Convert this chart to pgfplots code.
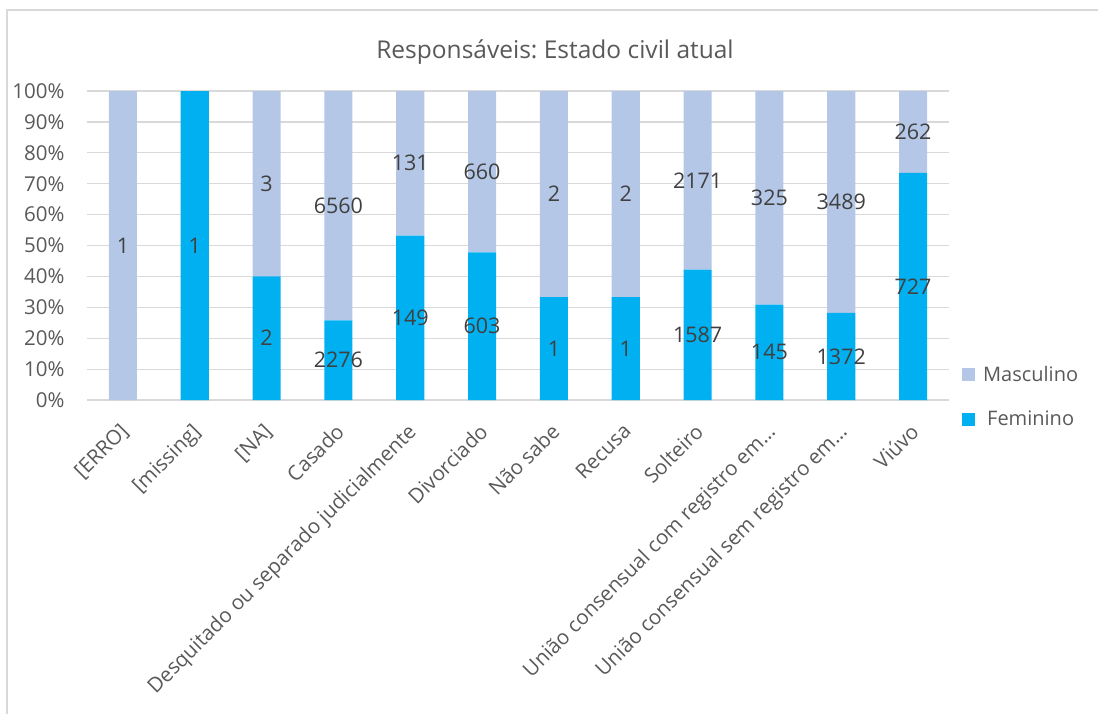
\documentclass[border=0pt]{standalone}
\usepackage{pgfplots}
\pgfplotsset{compat=1.18}
\usepackage{pgfplotstable}
\usepackage{fontspec}
\setmainfont{Open Sans}
\definecolor{fem}{HTML}{00B0F0}
\definecolor{masc}{HTML}{B4C7E7}
\definecolor{txt}{HTML}{595959}
\definecolor{lbl}{HTML}{404040}
\definecolor{gridc}{HTML}{D9D9D9}
\pgfplotstableread{
x fem masc flab mlab
0 0 1 {} 1
1 1 0 1 {}
2 2 3 2 3
3 2276 6560 2276 6560
4 149 131 149 131
5 603 660 603 660
6 1 2 1 2
7 1 2 1 2
8 1587 2171 1587 2171
9 145 325 145 325
10 1372 3489 1372 3489
11 727 262 727 262
}\data
\pgfplotsset{common/.style={
  at={(87pt,-400pt)}, anchor=south west,
  scale only axis, width=862pt, height=309pt,
  xmin=-0.5, xmax=11.5, ymin=0, ymax=100,
}}
\begin{document}
\begin{tikzpicture}[x=1pt,y=1pt]
\path[use as bounding box] (0,0) rectangle (1098,-714);
\draw[gridc, line width=1.2pt] (7,-714) -- (7,-10) -- (1098,-10);
\node[txt, font=\fontsize{24.5}{29}\selectfont] at (555,-52) {Responsáveis:\ Estado civil atual};
\begin{axis}[
  common,
  ybar stacked, bar width=0.39,
  xtick={0,...,11},
  xticklabels={{[ERRO]},{[missing]},{[NA]},Casado,Desquitado ou separado judicialmente,Divorciado,Não sabe,Recusa,Solteiro,União consensual com registro em…,União consensual sem registro em…,Viúvo},
  ytick={0,10,...,100},
  yticklabel={\pgfmathprintnumber{\tick}\%},
  ymajorgrids, grid style={gridc, line width=1.2pt},
  axis line style={draw=none}, tick style={draw=none},
  yticklabel style={font=\fontsize{20.5}{24}\selectfont, text=txt, xshift=-19pt},
  xticklabel style={font=\fontsize{20.5}{24}\selectfont, text=txt, xshift=-4pt, yshift=-22pt, rotate=45, anchor=north east, inner sep=0pt},
  /pgf/number format/assume math mode=true,
  legend style={at={(1.015,0.01)}, anchor=west, draw=none, fill=none, font=\fontsize{20}{24}\selectfont, text=txt, row sep=24pt, inner sep=0pt,
    /tikz/every odd column/.append style={column sep=6pt}},
  legend image code/.code={\fill[#1] (0pt,-6.5pt) rectangle (13pt,6.5pt);},
  reverse legend,
]
\addplot[fill=fem, draw=none] table[x=x, y expr={\thisrow{fem}/(\thisrow{fem}+\thisrow{masc})*100}] {\data};
\addplot[fill=masc, draw=none] table[x=x, y expr={\thisrow{masc}/(\thisrow{fem}+\thisrow{masc})*100}] {\data};
\legend{Feminino, Masculino}
\end{axis}
\begin{axis}[
  common, hide axis,
  point meta=explicit symbolic,
  nodes near coords, nodes near coords align=center,
  every node near coord/.append style={font=\fontsize{21.5}{26}\selectfont, text=lbl},
]
\addplot[draw=none, mark=none] table[x=x, y expr={\thisrow{fem}/(\thisrow{fem}+\thisrow{masc})*50}, meta=flab] {\data};
\addplot[draw=none, mark=none] table[x=x, y expr={50+\thisrow{fem}/(\thisrow{fem}+\thisrow{masc})*50}, meta=mlab] {\data};
\end{axis}
\end{tikzpicture}
\end{document}
